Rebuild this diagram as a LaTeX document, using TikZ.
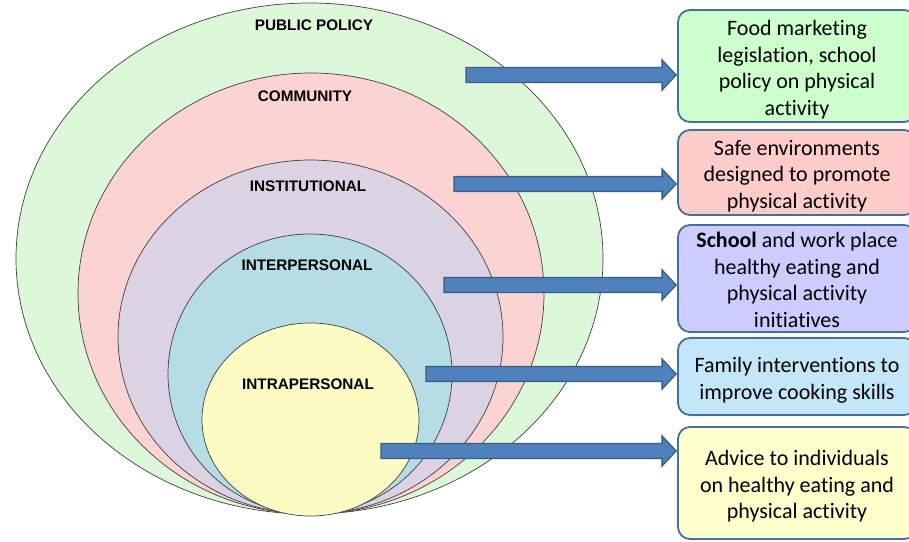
\documentclass[tikz,border=0pt]{standalone}
\usepackage{fontspec}
\setmainfont{Carlito}[Ligatures=NoCommon]
\newfontfamily\labelfont{Liberation Sans}
\usetikzlibrary{calc,shapes.geometric}

\definecolor{ringA}{HTML}{DDF8D8}
\definecolor{ringB}{HTML}{FCD3D3}
\definecolor{ringC}{HTML}{DBD3E4}
\definecolor{ringD}{HTML}{B6DDE6}
\definecolor{ringE}{HTML}{FCFBC4}
\definecolor{boxA}{HTML}{CCFFCC}
\definecolor{boxB}{HTML}{FFCCCC}
\definecolor{boxC}{HTML}{CCCCFF}
\definecolor{boxD}{HTML}{C3E6F8}
\definecolor{boxE}{HTML}{FFFFCC}
\definecolor{boxline}{HTML}{41719C}
\definecolor{arrowfill}{HTML}{4F81BD}
\definecolor{arrowline}{HTML}{385D8A}

\tikzset{
  ring/.style={ellipse, draw=black!75, line width=0.7pt, inner sep=0pt},
  ringlabel/.style={font=\labelfont\bfseries\fontsize{15.3}{17}\selectfont, inner sep=0pt},
  actionbox/.style={draw=boxline, line width=1.8pt, rounded corners=12pt,
    minimum width=238pt, inner sep=0pt},
  boxtext/.style={align=center, inner sep=0pt,
    font=\fontsize{22}{26.5}\selectfont},
  blockarrow/.style={fill=arrowfill, draw=arrowline, line width=1.3pt, line join=miter}
}

% thick block arrow from a start point to the west side of a box
\newcommand\levelarrow[2]{%
  \draw[blockarrow] let \p1=(#1), \p2=(#2.west) in
    (\x1,\y1+7.5pt) -- (\x2-15pt,\y1+7.5pt) -- (\x2-15pt,\y1+15pt) --
    (\x2-1pt,\y1) -- (\x2-15pt,\y1-15pt) -- (\x2-15pt,\y1-7.5pt) --
    (\x1,\y1-7.5pt) -- cycle;}

\begin{document}
\begin{tikzpicture}[x=1pt, y=-1pt]
\useasboundingbox (0,0) rectangle (909,541);
\clip (0,0) rectangle (909,541);
\fill[white] (0,0) rectangle (909,541);

% nested levels of influence
\node[ring, fill=ringA, minimum width=587pt, minimum height=511pt] (policy) at (309.5,258.5) {};
\node[ring, fill=ringB, minimum width=466pt, minimum height=441pt] (community) at (311,293.5) {};
\node[ring, fill=ringC, minimum width=385pt, minimum height=354pt] (institutional) at (310.5,337) {};
\node[ring, fill=ringD, minimum width=284pt, minimum height=280pt] (interpersonal) at (310,374) {};
\node[ring, fill=ringE, minimum width=217pt, minimum height=193pt] (intrapersonal) at (310.5,419.5) {};

\node[ringlabel] (lpolicy) at (314,25) {PUBLIC POLICY};
\node[ringlabel] (lcommunity) at (305,96) {COMMUNITY};
\node[ringlabel] (linstitutional) at (308,186) {INSTITUTIONAL};
\node[ringlabel] (linterpersonal) at (307,265) {INTERPERSONAL};
\node[ringlabel] (lintrapersonal) at (308,384) {INTRAPERSONAL};

% example interventions for each level
\node[actionbox, fill=boxA, minimum height=112pt] (bA) at (797,66) {};
\node[actionbox, fill=boxB, minimum height=85pt] (bB) at (797,172.5) {};
\node[actionbox, fill=boxC, minimum height=107pt] (bC) at (797,278.5) {};
\node[actionbox, fill=boxD, minimum height=77pt] (bD) at (797,376.5) {};
\node[actionbox, fill=boxE, minimum height=112pt] (bE) at (797,483) {};

\node[boxtext] (tA) at ([yshift=-3.5pt]bA.center)
  {Food marketing\\legislation, school\\policy on physical\\activity};
\node[boxtext] (tB) at ([yshift=-3.5pt]bB.center)
  {Safe environments\\designed to promote\\physical activity};
\node[boxtext] (tC) at ([yshift=-1.5pt]bC.center)
  {\textbf{School} and work place\\healthy eating and\\physical activity\\initiatives};
\node[boxtext] (tD) at ([yshift=-3.5pt]bD.center)
  {Family interventions to\\improve cooking skills};
\node[boxtext] (tE) at ([yshift=-3.5pt]bE.center)
  {Advice to individuals\\on healthy eating and\\physical activity};

% arrow start points inside the rings
\coordinate (sA) at (466,75);
\coordinate (sB) at (454,184);
\coordinate (sC) at (444,285);
\coordinate (sD) at (426,374);
\coordinate (sE) at (381,451);

\levelarrow{sA}{bA}
\levelarrow{sB}{bB}
\levelarrow{sC}{bC}
\levelarrow{sD}{bD}
\levelarrow{sE}{bE}
\end{tikzpicture}
\end{document}
